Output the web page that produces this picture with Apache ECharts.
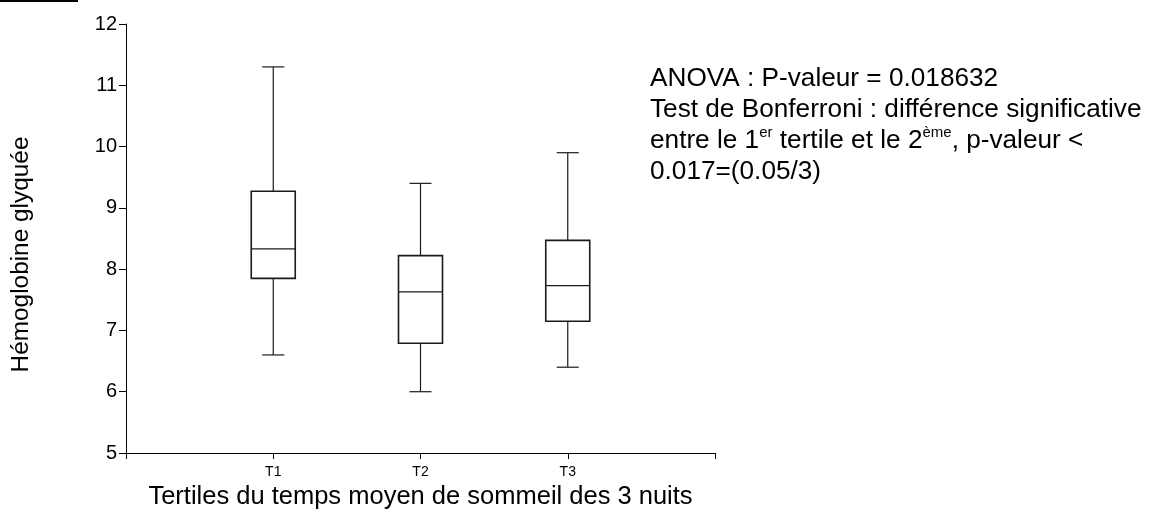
<!DOCTYPE html>
<html>
<head>
<meta charset="utf-8">
<script src="https://cdn.jsdelivr.net/npm/echarts@6/dist/echarts.min.js"></script>
<style>
html,body{margin:0;padding:0;background:#fff;}
#chart{width:1167px;height:515px;}
</style>
</head>
<body>
<div id="chart"></div>
<script>
// Data
const categories = ['T1', 'T2', 'T3'];
const whiskerLow = [6.6, 6.0, 6.4];
const q1 = [7.85, 6.79, 7.15];
const median = [8.33, 7.63, 7.73];
const q3 = [9.27, 8.22, 8.47];
const whiskerHigh = [11.3, 9.4, 9.9];
const yTicks = [5, 6, 7, 8, 9, 10, 11, 12];

const boxData = categories.map((c, i) => [i + 1, whiskerLow[i], q1[i], median[i], q3[i], whiskerHigh[i]]);

const FONT = '"Liberation Sans", Arial, sans-serif';
const chart = echarts.init(document.getElementById('chart'), null, {renderer: 'canvas'});

function renderBox(params, api) {
  const x = api.value(0);
  const pMin = api.coord([x, api.value(1)]);
  const pQ1 = api.coord([x, api.value(2)]);
  const pMed = api.coord([x, api.value(3)]);
  const pQ3 = api.coord([x, api.value(4)]);
  const pMax = api.coord([x, api.value(5)]);
  const half = 22, cap = 11;
  const cx = pMed[0];
  const ws = {stroke: '#1a1a1a', lineWidth: 1.2};
  return {
    type: 'group',
    children: [
      {type: 'line', shape: {x1: cx, y1: pMax[1], x2: cx, y2: pQ3[1]}, style: ws},
      {type: 'line', shape: {x1: cx, y1: pQ1[1], x2: cx, y2: pMin[1]}, style: ws},
      {type: 'line', shape: {x1: cx - cap, y1: pMax[1], x2: cx + cap, y2: pMax[1]}, style: ws},
      {type: 'line', shape: {x1: cx - cap, y1: pMin[1], x2: cx + cap, y2: pMin[1]}, style: ws},
      {type: 'rect', shape: {x: cx - half, y: pQ3[1], width: half * 2, height: pQ1[1] - pQ3[1]}, style: {stroke: '#1a1a1a', lineWidth: 1.6, fill: '#fff'}},
      {type: 'line', shape: {x1: cx - half, y1: pMed[1], x2: cx + half, y2: pMed[1]}, style: {stroke: '#1a1a1a', lineWidth: 1.3}}
    ]
  };
}

const option = {
  animation: false,
  backgroundColor: '#fff',
  grid: {left: 126, right: 452, top: 24, bottom: 60, containLabel: false},
  xAxis: {
    type: 'value', min: 0, max: 4, interval: 1,
    splitLine: {show: false},
    axisLine: {show: true, onZero: false, lineStyle: {color: '#000', width: 1}},
    axisTick: {show: true, length: 6, lineStyle: {color: '#000'}},
    axisLabel: {
      margin: 12, fontSize: 14, color: '#000', fontFamily: FONT,
      formatter: v => (v >= 1 && v <= categories.length) ? categories[v - 1] : ''
    },
    name: 'Tertiles du temps moyen de sommeil des 3 nuits',
    nameLocation: 'middle', nameGap: 31,
    nameTextStyle: {fontSize: 25.5, color: '#000', fontFamily: FONT}
  },
  yAxis: {
    type: 'value', min: yTicks[0], max: yTicks[yTicks.length - 1], interval: 1,
    splitLine: {show: false},
    axisLine: {show: true, lineStyle: {color: '#000', width: 1}},
    axisTick: {show: true, length: 7, lineStyle: {color: '#000'}},
    axisLabel: {margin: 9, fontSize: 20, color: '#000', fontFamily: FONT},
    name: 'Hémoglobine glyquée',
    nameLocation: 'middle', nameRotate: 90, nameGap: 93,
    nameTextStyle: {fontSize: 24.4, color: '#000', fontFamily: FONT, padding: [0, 32, 0, 0]}
  },
  series: [{
    type: 'custom',
    renderItem: renderBox,
    encode: {x: 0, y: [1, 2, 3, 4, 5]},
    data: boxData,
    clip: false
  }],
  graphic: [
    {type: 'rect', left: 0, top: 0, shape: {width: 78, height: 2}, style: {fill: '#000'}},
    {
      type: 'text', left: 650, top: 63,
      style: {
        text: 'ANOVA : P-valeur = 0.018632\nTest de Bonferroni : différence significative\nentre le 1{sup|er} tertile et le 2{sup|ème}, p-valeur <\n0.017=(0.05/3)',
        font: '26.2px ' + FONT, fill: '#000', lineHeight: 31,
        rich: {sup: {fontSize: 15, verticalAlign: 'top', padding: [0, 0, 14, 0], fontFamily: FONT, fill: '#000', lineHeight: 31}}
      }
    }
  ]
};
chart.setOption(option);
</script>
</body>
</html>
